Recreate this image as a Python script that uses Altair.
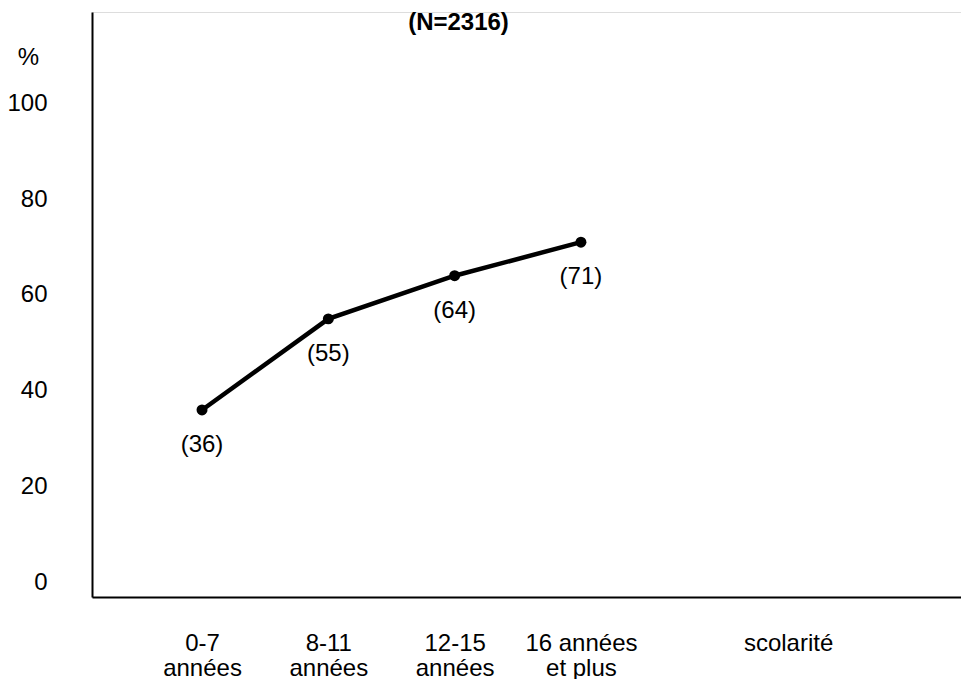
import altair as alt
import pandas as pd

# Data
positions = [1, 2, 3, 4]
percents = [36, 55, 64, 71]
point_labels = ["(36)", "(55)", "(64)", "(71)"]
x_tick_values = [1, 2, 3, 4, 5.64]
x_tick_lines = [["0-7", "années"], ["8-11", "années"], ["12-15", "années"],
                ["16 années", "et plus"], ["scolarité"]]
y_tick_values = [0, 20, 40, 60, 80, 100]
title_text = "(N=2316)"
y_title = "%"

FONT = "Liberation Sans"
FS = 24

df = pd.DataFrame({"pos": positions, "pct": percents, "label": point_labels})

# Build the multi-line x label expression from the lists
parts = []
for v, lines in zip(x_tick_values, x_tick_lines):
    arr = "[" + ",".join("'" + s + "'" for s in lines) + "]"
    parts.append((v, arr))
expr = "''"
for v, arr in reversed(parts):
    expr = f"(abs(datum.value - {v}) < 0.01) ? {arr} : ({expr})"

xscale = alt.Scale(domain=[0.129, 7.009], nice=False, zero=False)
yscale = alt.Scale(domain=[-3, 119], nice=False, zero=False)

xaxis = alt.Axis(values=x_tick_values, labelExpr=expr, title=None, grid=False,
                 ticks=False, domain=True, domainColor="black", domainWidth=2,
                 labelFont=FONT, labelFontSize=FS, labelColor="black",
                 labelBaseline="top", labelPadding=34, labelLineHeight=25,
                 labelOverlap=False, labelFlush=False, labelBound=False)
yaxis = alt.Axis(values=y_tick_values, title=y_title, grid=False, ticks=False,
                 domain=True, domainColor="black", domainWidth=2,
                 labelFont=FONT, labelFontSize=FS, labelColor="black",
                 labelPadding=45, labelOverlap=False, labelFlush=False,
                 titleAngle=0, titleX=-64, titleY=45, titleAlign="center",
                 titleBaseline="middle", titleFont=FONT, titleFontSize=FS,
                 titleFontWeight="normal", titleColor="black")

base = alt.Chart(df)
x = alt.X("pos:Q", scale=xscale, axis=xaxis)
y = alt.Y("pct:Q", scale=yscale, axis=yaxis)

line = base.mark_line(color="black", strokeWidth=4.5).encode(x=x, y=y)
pts = base.mark_circle(size=120, color="black", opacity=1).encode(x=x, y=y)
lbl = base.mark_text(dy=35, fontSize=FS, font=FONT, color="black").encode(
    x=x, y=y, text="label:N")

chart = alt.layer(line, pts, lbl).properties(
    width=869, height=585,
    title=alt.TitleParams(title_text, font=FONT, fontSize=FS, fontWeight="bold",
                          anchor="middle", frame="group", dx=-68,
                          offset=-23, color="black"),
    autosize=alt.AutoSizeParams(type="none"),
    padding={"left": 84, "top": 4, "right": 0, "bottom": 82},
).configure_view(strokeOpacity=0, strokeWidth=0, fill="white").configure(background="white")

chart.save("out.html", embed_options={"renderer": "svg", "actions": False})
